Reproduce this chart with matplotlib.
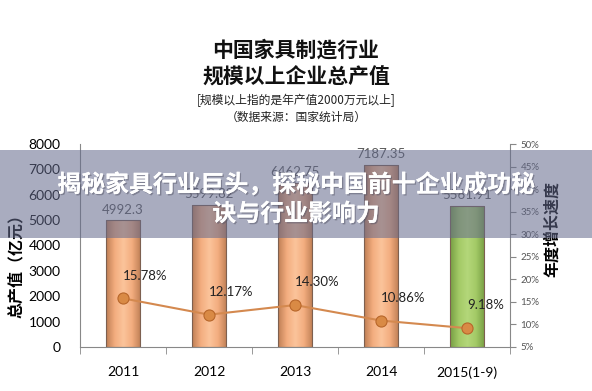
import numpy as np
import matplotlib.pyplot as plt
from matplotlib.colors import LinearSegmentedColormap
from matplotlib.patches import Rectangle
import matplotlib.patheffects as pe

plt.rcParams['font.family'] = ['Lato', 'Noto Sans CJK SC', 'DejaVu Sans']
CJK = ['Noto Sans CJK SC', 'DejaVu Sans']

years = ['2011', '2012', '2013', '2014', '2015(1-9)']
output = [4992.3, 5599.82, 6462.75, 7187.35, 5561.91]
output_labels = ['4992.3', '5599.82', '6462.75', '7187.35', '5561.91']
growth = [15.78, 12.17, 14.30, 10.86, 9.18]
growth_labels = ['15.78%', '12.17%', '14.30%', '10.86%', '9.18%']

fig = plt.figure(figsize=(5.92, 3.91), dpi=100)
fig.patch.set_facecolor('white')
ax = fig.add_axes([80 / 592, 1 - 347 / 391, 430 / 592, 203 / 391])
ax2 = ax.twinx()

x = np.arange(len(years))
orange = LinearSegmentedColormap.from_list('o', ['#bf7f55', '#f3ad7f', '#fbc49b', '#f3ad7f', '#bf7f55'])
green = LinearSegmentedColormap.from_list('g', ['#779f44', '#a3ca66', '#b4d77a', '#a3ca66', '#779f44'])
grad = np.linspace(0, 1, 64).reshape(1, -1)

bars = ax.bar(x, output, width=0.4, color='none', edgecolor='#7d6050', linewidth=0.8, zorder=2)
for i, b in enumerate(bars):
    cm = green if i == len(bars) - 1 else orange
    x0, w, h = b.get_x(), b.get_width(), b.get_height()
    im = ax.imshow(grad, extent=[x0, x0 + w, 0, h], cmap=cm, aspect='auto', zorder=1)
    clip = Rectangle((x0, 0), w, h, transform=ax.transData)
    im.set_clip_path(clip)
    ax.text(b.get_x() + w / 2, h + 180, output_labels[i], ha='center', va='bottom',
            fontsize=9.5, color='#595959')

ax.set_xlim(-0.5, len(years) - 0.5)
ax.set_ylim(0, 8000)
ax.set_yticks(np.arange(0, 8001, 1000))
ax.tick_params(axis='y', length=0, labelsize=10, pad=14, colors='black')
ax.set_xticks(x)
ax.set_xticklabels(years, fontsize=10)
ax.set_xticks(np.arange(-0.5, len(years), 1), minor=True)
ax.tick_params(axis='x', which='major', length=0, pad=14)
ax.tick_params(axis='x', which='minor', length=5, color='#888888')
ax.spines['top'].set_visible(False)
ax.spines['left'].set_color('#888888')
ax.spines['bottom'].set_color('#888888')
ax.spines['right'].set_visible(False)

ax2.plot(x, growth, color='#d4894f', linewidth=1.5, marker='o', markersize=8,
         markerfacecolor='#d98a45', markeredgecolor='#b8662a', markeredgewidth=0.8, zorder=3)
for xi, g, lab in zip(x, growth, growth_labels):
    ax2.annotate(lab, (xi, g), xytext=(0, 12), textcoords='offset points',
                 ha='left', va='bottom', fontsize=9.5, color='#222222')
ax2.set_ylim(5, 50)
ax2.set_yticks(np.arange(5, 51, 5))
ax2.set_yticklabels([f'{v}%' for v in range(5, 51, 5)])
ax2.tick_params(axis='y', labelsize=7, length=4, color='#888888', colors='#555555')
ax2.spines['right'].set_color('#888888')
ax2.spines['top'].set_visible(False)
ax2.spines['left'].set_visible(False)
ax2.spines['bottom'].set_visible(False)
ax.set_zorder(ax2.get_zorder() - 1)
ax2.patch.set_visible(False)

ax.set_ylabel('总产值（亿元）', family=CJK, fontsize=11.5, fontweight='bold')
ax2.set_ylabel('年度增长速度', family=CJK, fontsize=11.5, fontweight='bold')
ax.yaxis.set_label_coords(-0.13, 0.42)
ax2.yaxis.set_label_coords(1.08, 0.58)

fig.text(0.5, 1 - 50 / 391, '中国家具制造行业', family=CJK, fontsize=15, fontweight='bold',
         ha='center', va='center', color='#111111')
fig.text(0.5, 1 - 77 / 391, '规模以上企业总产值', family=CJK, fontsize=15, fontweight='bold',
         ha='center', va='center', color='#111111')
fig.text(0.5, 1 - 100 / 391, '[规模以上指的是年产值2000万元以上]', family=CJK, fontsize=8.5,
         ha='center', va='center', color='#222222')
fig.text(0.5, 1 - 117 / 391, '（数据来源：国家统计局）', family=CJK, fontsize=8.5,
         ha='center', va='center', color='#222222')

# banner overlay
fig.patches.append(Rectangle((0, 1 - 238 / 391), 1, 88 / 391, transform=fig.transFigure,
                             facecolor=(0.39, 0.41, 0.55), alpha=0.55, edgecolor='none', zorder=5))
shadow = [pe.withSimplePatchShadow(offset=(1, -1), shadow_rgbFace='#555566', alpha=0.5), pe.Normal()]
fig.text(0.5, 1 - 185 / 391, '揭秘家具行业巨头，探秘中国前十企业成功秘', family=CJK, fontsize=17.2,
         fontweight='bold', ha='center', va='center', color='white', zorder=6, path_effects=shadow)
fig.text(0.5, 1 - 214 / 391, '诀与行业影响力', family=CJK, fontsize=17.2,
         fontweight='bold', ha='center', va='center', color='white', zorder=6, path_effects=shadow)

fig.savefig('out.png', dpi=100)
